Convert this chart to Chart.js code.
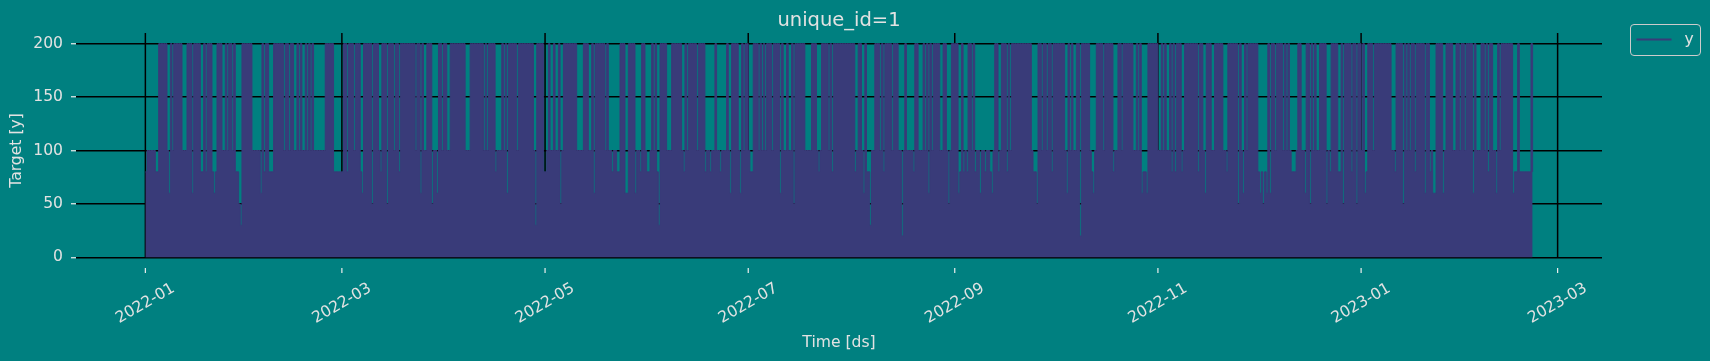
<!DOCTYPE html>
<html><head><meta charset="utf-8">
<script src="https://cdn.jsdelivr.net/npm/chart.js@4/dist/chart.umd.min.js"></script>
<style>html,body{margin:0;padding:0;background:#008080;overflow:hidden}#wrap{width:1710px;height:361px;position:relative}</style>
</head><body><div id="wrap"><canvas id="c" width="1710" height="361"></canvas></div>
<script>
// Half-day envelope peaks of series "y" (value range reached in each 12-hour slot)
const jan22 = [80,100,100,100,100,100,80,80,200,200, 200,200,200,100,60,200,100,200,200,200, 200,200,100,100,100,200,200,200,60,200, 200,200,200,80,80,200,80,200,200,200, 80,60,80,200,200,200,100,100,200,100, 200,200,100,200,80,80,50,30,200,200, 200,200];
const feb22 = [200,200,100,100,100,100,100,60,200,80, 200,200,80,80,80,200,200,200,200,200, 200,100,200,200,100,200,200,100,100,200, 100,200,100,100,200,100,200,100,200,100, 100,100,100,100,100,100,200,200,200,200, 200,80,80,80,80,80];
const mar22 = [80,200,200,80,200,200,200,100,200,200, 200,80,60,200,200,200,200,200,50,200, 200,200,100,80,200,200,200,50,200,200, 200,100,200,200,80,200,200,200,200,200, 200,200,200,200,100,200,200,60,200,100, 100,200,200,200,50,100,100,60,200,200, 100,200];
const apr22 = [200,100,100,200,200,200,200,200,200,200, 200,200,100,100,100,200,200,200,200,200, 200,200,200,100,200,100,200,200,200,200, 80,100,100,100,200,100,200,60,200,200, 200,200,200,100,200,200,200,200,200,200, 200,200,200,100,30,200,200,200,200,80];
const may22 = [80,100,200,100,100,200,100,100,200,50, 100,200,200,200,200,200,200,200,200,100, 100,100,100,200,200,200,100,100,200,60, 200,200,200,200,200,200,100,200,100,100, 80,100,100,80,80,200,200,200,60,60, 200,200,200,200,60,100,100,80,200,200, 100,80];
const jun22 = [80,100,200,100,200,80,30,200,200,200, 200,100,100,100,200,200,200,200,200,200, 100,80,200,100,200,200,200,200,200,100, 200,200,200,200,80,100,100,80,100,100, 200,100,100,80,100,100,100,200,100,60, 200,200,200,200,100,60,200,100,200,200];
const jul22 = [100,80,80,200,200,200,100,200,100,200, 100,200,200,200,100,200,200,200,200,60, 200,100,100,200,100,100,200,50,200,200, 200,200,200,200,100,100,100,100,200,200, 200,100,80,100,200,200,200,200,100,200, 80,200,200,200,200,200,200,200,200,200, 200,200];
const aug22 = [200,200,80,100,200,200,100,60,200,80, 80,30,100,100,200,200,200,100,200,80, 200,200,200,200,100,200,200,200,100,100, 20,100,200,100,100,100,100,80,200,200, 100,100,100,200,100,200,60,200,100,200, 200,200,200,100,100,200,200,100,50,100, 200,200];
const sep22 = [200,200,60,80,200,80,100,80,200,200, 100,200,80,100,100,60,100,100,80,100, 100,80,60,100,200,200,80,100,200,200, 200,80,200,100,200,200,200,200,200,200, 200,200,200,200,200,200,100,80,80,50, 200,200,100,200,200,100,200,200,80,200];
const oct22 = [200,200,200,200,200,200,100,60,200,100, 200,100,100,200,200,20,200,200,200,200, 200,100,80,60,100,200,200,200,200,100, 200,200,200,200,200,80,100,100,200,200, 100,200,200,200,200,200,200,100,100,200, 100,200,60,80,80,60,200,200,200,200, 200,200];
const nov22 = [100,100,200,100,200,100,100,200,80,200, 80,200,200,200,80,100,200,200,200,200, 200,200,200,200,80,200,200,100,60,200, 200,200,100,100,200,200,200,200,200,100, 100,80,200,200,200,200,200,200,50,200, 100,60,200,100,200,200,200,200,200,200];
const dec22 = [80,60,80,50,80,60,200,60,200,200, 100,200,200,200,200,100,200,100,200,100, 80,80,80,100,200,200,100,100,60,200, 200,50,200,100,200,100,100,200,200,200, 200,50,100,80,200,200,200,200,80,80, 200,50,200,200,200,200,80,200,200,50, 200,200];
const jan23 = [100,200,60,80,200,200,200,100,200,200, 200,200,200,200,200,200,200,200,100,100, 80,200,200,200,200,50,200,100,200,100, 200,200,80,200,200,200,200,200,60,200, 200,80,100,60,60,200,200,200,200,60, 100,200,200,200,200,100,100,200,200,100, 200,200];
const feb23 = [100,200,200,200,200,60,200,100,100,100, 200,200,100,200,80,200,200,100,100,60, 200,100,200,200,200,200,200,200,200,60, 80,80,200,80,80,80,80,80,80,80, 200,80];

const tickDays = [0, 59, 120, 181, 243, 304, 365, 424];   // days since 2022-01-01
const tickLabels = ['2022-01','2022-03','2022-05','2022-07','2022-09','2022-11','2023-01','2023-03'];
const yTickValues = [0, 50, 100, 150, 200];
const seriesName = 'y';
const titleText = 'unique_id=1';
const xTitleText = 'Time [ds]';
const yTitleText = 'Target [y]';

const BG = '#008080', PURPLE = '#393b79', TXT = '#e2e2e2', TICK = '#eeeeee';
const FONT = "'DejaVu Sans', sans-serif";
const FS = 15.6;

const halfDays = [].concat(jan22, feb22, mar22, apr22, may22, jun22, jul22, aug22, sep22, oct22, nov22, dec22, jan23, feb23);
const points = halfDays.map((v, i) => ({x: i * 0.5, y: v}));
const span = (halfDays.length - 1) * 0.5;
const xMin = -0.05 * span, xMax = span * 1.05;

const extras = {
  id: 'extras',
  beforeDraw(chart) {
    const c = chart.ctx; c.save(); c.fillStyle = BG; c.fillRect(0, 0, chart.width, chart.height); c.restore();
  },
  beforeDatasetsDraw(chart) {
    const {ctx, scales: {x, y}, chartArea} = chart;
    ctx.save(); ctx.strokeStyle = '#000'; ctx.lineWidth = 1.5;
    const yb = y.getPixelForValue(0);
    tickDays.forEach(d => {
      const px = x.getPixelForValue(d);
      ctx.beginPath(); ctx.moveTo(px, chartArea.top); ctx.lineTo(px, yb); ctx.stroke();
    });
    ctx.restore();
  },
  afterDraw(chart) {
    const {ctx, scales: {x}, chartArea} = chart;
    ctx.save();
    ctx.strokeStyle = TICK; ctx.lineWidth = 1.2;
    tickDays.forEach(d => {
      const px = x.getPixelForValue(d);
      ctx.beginPath(); ctx.moveTo(px, chartArea.bottom); ctx.lineTo(px, chartArea.bottom + 5); ctx.stroke();
    });
    ctx.fillStyle = TXT; ctx.font = FS + 'px ' + FONT; ctx.textAlign = 'center'; ctx.textBaseline = 'middle';
    tickDays.forEach((d, i) => {
      const px = x.getPixelForValue(d);
      ctx.save(); ctx.translate(px, chartArea.bottom + 35.5); ctx.rotate(-Math.PI / 6);
      ctx.fillText(tickLabels[i], 0, 0); ctx.restore();
    });
    ctx.font = '19.5px ' + FONT; ctx.textAlign = 'center'; ctx.textBaseline = 'alphabetic';
    ctx.fillText(titleText, (chartArea.left + chartArea.right) / 2, 25.5);
    const lx = chartArea.right + 28.5, ly = 24.5, lw = 70, lh = 31;
    ctx.beginPath(); ctx.roundRect(lx, ly, lw, lh, 3.5);
    ctx.fillStyle = BG; ctx.fill(); ctx.strokeStyle = '#cccccc'; ctx.lineWidth = 1; ctx.stroke();
    ctx.strokeStyle = PURPLE; ctx.lineWidth = 2;
    ctx.beginPath(); ctx.moveTo(lx + 6, ly + 15); ctx.lineTo(lx + 41, ly + 15); ctx.stroke();
    ctx.fillStyle = TXT; ctx.font = FS + 'px ' + FONT; ctx.textAlign = 'left';
    ctx.fillText(seriesName, lx + 54, ly + 19.5);
    ctx.restore();
  }
};

new Chart(document.getElementById('c').getContext('2d'), {
  type: 'line',
  data: {datasets: [{
    label: seriesName, data: points, stepped: 'before', fill: 'origin',
    backgroundColor: PURPLE, borderColor: PURPLE, borderWidth: 1, pointRadius: 0
  }]},
  options: {
    responsive: false, animation: false, devicePixelRatio: 1,
    layout: {padding: {top: 33, right: 108, left: 0, bottom: 0}},
    plugins: {legend: {display: false}, title: {display: false}, tooltip: {enabled: false}},
    scales: {
      x: {
        type: 'linear', min: xMin, max: xMax,
        grid: {display: false}, border: {display: false}, ticks: {display: false},
        afterFit(s) { s.height = 93; },
        title: {display: true, text: xTitleText, color: TXT, font: {family: FONT, size: FS}, padding: {top: 0, bottom: 8.5}}
      },
      y: {
        type: 'linear', min: -10, max: 210,
        afterBuildTicks(s) { s.ticks = yTickValues.map(v => ({value: v})); },
        grid: {color: '#000', lineWidth: 1.5, tickColor: TICK, tickLength: 5, tickWidth: 1.2},
        border: {display: false},
        ticks: {color: TXT, font: {family: FONT, size: FS}, padding: 8},
        afterFit(s) { s.width = 76; },
        title: {display: true, text: yTitleText, color: TXT, font: {family: FONT, size: FS}, padding: {top: 7.6, bottom: 0}}
      }
    }
  },
  plugins: [extras]
});
</script></body></html>
